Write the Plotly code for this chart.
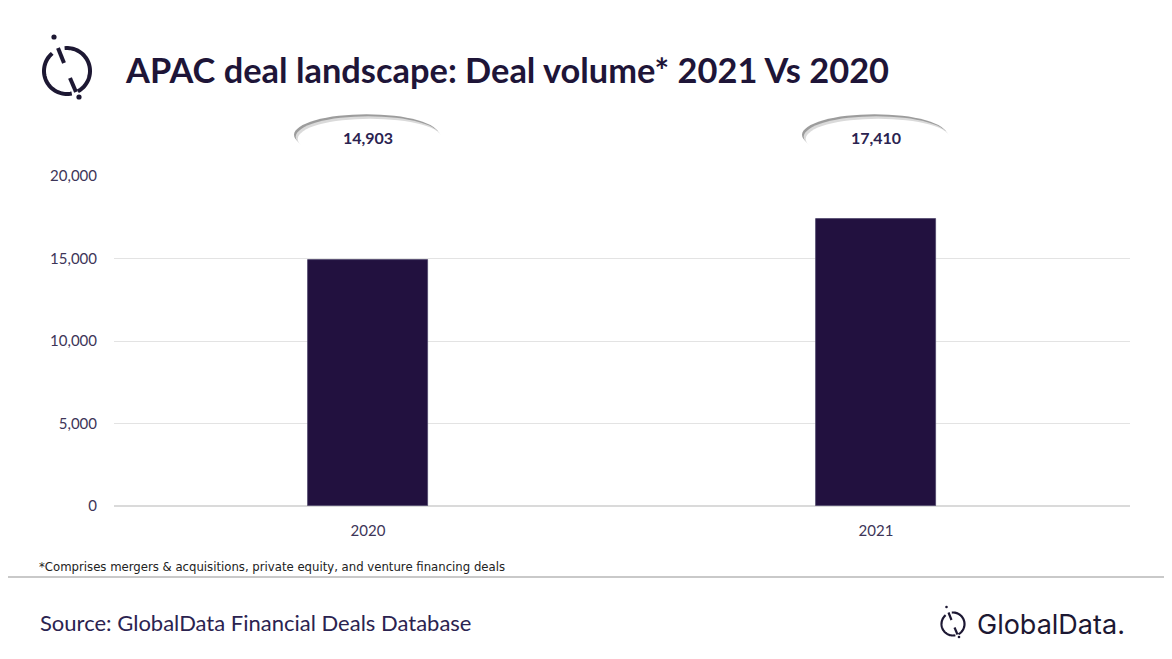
import numpy as np
import plotly.graph_objects as go

# data
years = ["2020", "2021"]
deal_volume = [14903, 17410]
y_ticks = [0, 5000, 10000, 15000, 20000]

title = "APAC deal landscape: Deal volume* 2021 Vs 2020"
footnote = "*Comprises mergers & acquisitions, private equity, and venture financing deals"
source = "Source: GlobalData Financial Deals Database"

# the page body has an 8px margin, so the figure sits at (8, 8)
OFF = 8
W, H = 1172 - OFF, 659 - OFF
L, R, T, B = 114 - OFF, 42, 176 - OFF, 153
pw, ph = W - L - R, H - T - B

NAVY = "#22113f"
TXT = "#2b2350"
FONT = "Lato, Open Sans, sans-serif"


def px(x, y):
    # pixel on the reference page -> paper coords
    return (x - OFF - L) / pw, (T + ph - (y - OFF)) / ph


def poly(pts):
    s = ""
    for i, (x, y) in enumerate(pts):
        a, b = px(x, y)
        s += ("M" if i == 0 else "L") + f"{a:.5f},{b:.5f} "
    return s


def logo_shapes(cx, cy, s, width):
    # little GlobalData mark: split circle with a broken slash and two dots
    out = []
    r = 23 * s
    for a0, a1 in [(130, 282), (96, -62)]:
        t = np.radians(np.linspace(a0, a1, 40))
        pts = [(cx + r * np.cos(v), cy - r * np.sin(v)) for v in t]
        out.append(dict(type="path", path=poly(pts), xref="paper", yref="paper",
                        line=dict(color="#1d1833", width=width)))
    for (x0, y0), (x1, y1) in [((-9, -23), (-3, -8)), ((3, 7), (9, 21))]:
        out.append(dict(type="line", xref="paper", yref="paper",
                        x0=px(cx + x0 * s, 0)[0], y0=px(0, cy + y0 * s)[1],
                        x1=px(cx + x1 * s, 0)[0], y1=px(0, cy + y1 * s)[1],
                        line=dict(color="#1d1833", width=width)))
    for dx, dy in [(-13, -34), (12, 26)]:
        rr = 2.6 * s
        a, b = px(cx + dx * s - rr, cy + dy * s - rr)
        c, d = px(cx + dx * s + rr, cy + dy * s + rr)
        out.append(dict(type="circle", xref="paper", yref="paper", x0=a, y0=b, x1=c, y1=d,
                        fillcolor="#1d1833", line=dict(width=0)))
    return out


fig = go.Figure()
fig.add_trace(go.Bar(x=years, y=deal_volume, width=0.236, marker_color=NAVY,
                     marker_line=dict(color="#4b4268", width=0.8), hoverinfo="skip"))

shapes = []
annotations = []

# bubble labels above each bar
cat_px = pw / len(years)
bw = 145 / cat_px
for i, v in enumerate(deal_volume):
    for off, col in [(-1.5, "#9c9c9c"), (0.2, "#dadada"), (2.2, "#ffffff")]:
        dx = off / cat_px
        shapes.append(dict(type="circle", xref="x", yref="paper",
                           x0=i - bw / 2 + dx, x1=i + bw / 2 + dx,
                           y0=px(0, 157 + off)[1], y1=px(0, 116 + off * 1.2)[1],
                           fillcolor=col, line=dict(width=0), layer="below"))
    annotations.append(dict(x=i, xref="x", y=px(0, 138)[1], yref="paper",
                            xanchor="center", yanchor="middle",
                            text=f"<b>{v:,}</b>", showarrow=False,
                            font=dict(family=FONT, size=16, color=TXT)))

# separator above the source line
shapes.append(dict(type="line", xref="paper", yref="paper",
                   x0=px(0, 0)[0], x1=px(1172, 0)[0], y0=px(0, 577)[1], y1=px(0, 577)[1],
                   line=dict(color="#c9c9c9", width=2)))
shapes += logo_shapes(67, 71, 1.0, 4)
shapes += logo_shapes(953, 624, 0.5, 2.2)


def note(x, y, text, font):
    return dict(x=px(x, 0)[0], y=px(0, y)[1], xref="paper", yref="paper",
                xanchor="left", yanchor="middle", text=text, showarrow=False, font=font)


annotations += [
    note(123, 69, f"<b>{title}</b>", dict(family=FONT, size=34.4, color="#1e1538")),
    note(37, 566, footnote,
         dict(family="Liberation Sans Narrow, DejaVu Sans Condensed, sans-serif",
              size=13, color="#222")),
    note(38, 622, source, dict(family=FONT, size=22, color=TXT)),
    note(975, 624, "GlobalData.", dict(family="Inter, sans-serif", size=27, color="#1d1833")),
]

fig.update_layout(
    width=W, height=H, margin=dict(l=L, r=R, t=T, b=B),
    plot_bgcolor="white", paper_bgcolor="white", showlegend=False,
    shapes=shapes, annotations=annotations, bargap=0,
)
fig.update_xaxes(type="category", range=[-0.5, 1.5], showgrid=False, showline=False,
                 ticks="", ticklabelstandoff=14,
                 tickfont=dict(family=FONT, size=15, color="#3d3558"))
fig.update_yaxes(range=[0, 20000], tickvals=y_ticks, tickformat=",d", showgrid=True,
                 gridcolor="#e3e3e3", gridwidth=1, zeroline=True, zerolinecolor="#dadada",
                 zerolinewidth=1.5, showline=False, ticks="", ticklabelstandoff=16,
                 tickfont=dict(family=FONT, size=15, color="#3d3558"))

fig.write_html("out.html")
